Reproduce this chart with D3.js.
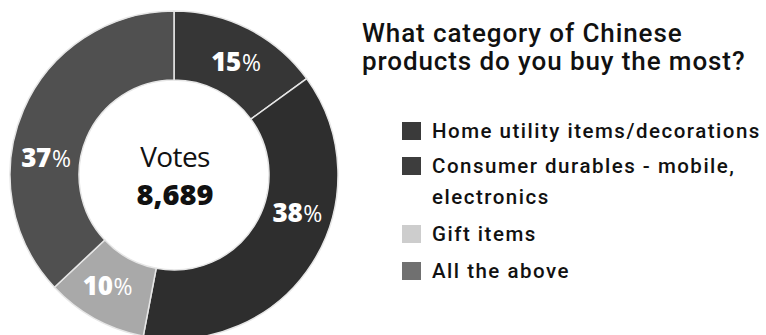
<!DOCTYPE html>
<html>
<head>
<meta charset="utf-8">
<script src="https://cdn.jsdelivr.net/npm/d3@7"></script>
<style>
  html, body { margin: 0; padding: 0; background: #fff; }
  svg { display: block; }
</style>
</head>
<body>
<svg id="chart" width="766" height="335"></svg>
<script>
// Poll results
const categories = [
  "Home utility items/decorations",
  "Consumer durables - mobile, electronics",
  "Gift items",
  "All the above"
];
const shares = [15, 38, 10, 37];
const totalVotes = 8689;
const legendLines = [
  ["Home utility items/decorations"],
  ["Consumer durables - mobile,", "electronics"],
  ["Gift items"],
  ["All the above"]
];
const sliceColors = ["#363636", "#2e2e2e", "#a9a9a9", "#505050"];
const legendColors = ["#3a3a3a", "#3d3d3d", "#cdcdcd", "#707070"];
const titleLines = ["What category of Chinese", "products do you buy the most?"];

const svg = d3.select("#chart");
const cx = 174, cy = 175, rOuter = 164, rInner = 95;

const pie = d3.pie().value(d => d).sort(null);
const arc = d3.arc().innerRadius(rInner).outerRadius(rOuter);
const arcs = pie(shares);

const g = svg.append("g").attr("transform", `translate(${cx},${cy})`);

g.selectAll("path.slice")
  .data(arcs)
  .join("path")
  .attr("class", "slice")
  .attr("d", arc)
  .attr("fill", (d, i) => sliceColors[i])
  .attr("stroke", "#e6e6e6")
  .attr("stroke-width", 1.5);

// Percentage labels sit on a ring, nudged along the circle for readability
const labelRadius = 129;
const labelTurns = [0.08, 0.297, 0.586, 0.771];
arcs.forEach((d, i) => {
  const a = labelTurns[i] * 2 * Math.PI;
  const x = Math.sin(a) * labelRadius;
  const y = -Math.cos(a) * labelRadius;
  const t = g.append("text")
    .attr("x", x).attr("y", y + 9)
    .attr("text-anchor", "middle")
    .attr("fill", "#fff")
    .attr("font-family", "'Open Sans', sans-serif");
  t.append("tspan")
    .attr("font-size", 26).attr("font-weight", 800)
    .attr("letter-spacing", -0.3)
    .text(d.data);
  t.append("tspan")
    .attr("font-size", 23).attr("font-weight", 400)
    .attr("dx", 1)
    .text("%");
});

// Centre total
g.append("text")
  .attr("x", 1).attr("y", -8)
  .attr("text-anchor", "middle")
  .attr("font-family", "'Open Sans', sans-serif")
  .attr("font-size", 28)
  .attr("font-weight", 500)
  .attr("letter-spacing", -0.6)
  .attr("fill", "#111")
  .text("Votes");
g.append("text")
  .attr("x", 1).attr("y", 30)
  .attr("text-anchor", "middle")
  .attr("font-family", "'Open Sans', sans-serif")
  .attr("font-size", 29)
  .attr("font-weight", 800)
  .attr("letter-spacing", 0)
  .attr("fill", "#111")
  .text(d3.format(",")(totalVotes));

// Title, one text element per line
titleLines.forEach((line, i) => {
  svg.append("text")
    .attr("x", 362).attr("y", 42 + i * 28)
    .attr("font-family", "Roboto, sans-serif")
    .attr("font-size", 26)
    .attr("font-weight", 500)
    .attr("letter-spacing", 0.9)
    .attr("fill", "#111")
    .text(line);
});

// Legend
const itemTops = [122, 157, 225, 262];
const legend = svg.append("g");
categories.forEach((c, i) => {
  const row = legend.append("g").attr("transform", `translate(402,${itemTops[i]})`);
  row.append("rect")
    .attr("width", 19).attr("height", 18)
    .attr("fill", legendColors[i]);
  legendLines[i].forEach((line, j) => {
    row.append("text")
      .attr("x", 30).attr("y", 16 + j * 31)
      .attr("font-family", "Roboto, sans-serif")
      .attr("font-size", 20.5)
      .attr("font-weight", 500)
      .attr("letter-spacing", 1.5)
      .attr("fill", "#111")
      .text(line);
  });
});
</script>
</body>
</html>
